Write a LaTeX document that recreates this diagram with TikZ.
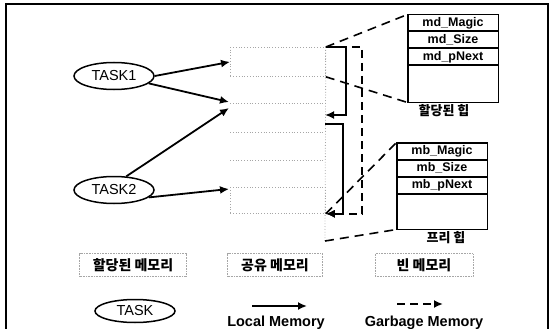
\documentclass[tikz,border=0pt]{standalone}
\usepackage{fontspec}
\setmainfont{Liberation Sans}
\newfontfamily\krfont{Noto Sans CJK KR}
\usetikzlibrary{shapes.geometric, arrows.meta, positioning}

\begin{document}
\begin{tikzpicture}[x=1pt, y=-1pt,
					taskell/.style={
						draw,
						ellipse,
						line width=1.5pt,
						minimum width=80pt,
						minimum height=27pt,
						inner sep=0pt,
						font=\fontsize{14.5}{16}\selectfont
					},
					fieldrow/.style={
						draw,
						rectangle,
						line width=1pt,
						minimum width=90pt,
						minimum height=16pt,
						inner sep=0pt,
						font=\bfseries\fontsize{12.5}{13}\selectfont
					},
					memblock/.style={
						draw=gray!70,
						dotted,
						line width=0.8pt,
						rectangle,
						minimum width=95pt,
						inner sep=0pt,
						anchor=north west
					},
					legendbox/.style={
						draw=gray!70,
						densely dotted,
						line width=0.6pt,
						rectangle,
						minimum height=23pt,
						inner sep=2pt,
						font=\krfont\bfseries\fontsize{14}{16}\selectfont
					},
					heaplabel/.style={font=\krfont\bfseries\fontsize{13}{14}\selectfont},
					legendtext/.style={font=\bfseries\fontsize{14.5}{16}\selectfont, anchor=base},
					localarrow/.style={-{Latex[length=9pt,width=8pt]}, line width=1.8pt},
					garbarrow/.style={-{Latex[length=9pt,width=8pt]}, line width=1.8pt, dash pattern=on 8pt off 5pt},
					zoomline/.style={line width=1.6pt, dash pattern=on 9pt off 6pt}
					]
					\useasboundingbox (0,0) rectangle (554,329);
					
					% Frame
					\draw[line width=1.3pt] (6,329) -- (6,4) -- (548,4) -- (548,329);
					
					% Shared memory column
					\node (blkA) [memblock, minimum height=29pt] at (230,47) {};
					\node (blkB) [memblock, minimum height=26pt] at (230,187) {};
					\draw[gray!70, dotted, line width=0.8pt] (230,103) -- (325,103);
					\draw[gray!70, dotted, line width=0.8pt] (230,132) -- (325,132);
					\draw[gray!70, dotted, line width=0.8pt] (230,160) -- (325,160);
					\coordinate (freebot) at (325,241);
					\draw[gray!70, dotted, line width=0.8pt] (blkA.north east) -- (freebot);
					
					% Tasks
					\node (task1) [taskell] at (114,76) {TASK1};
					\node (task2) [taskell] at (114,190) {TASK2};
					\coordinate (row3a) at (229,102);
					\coordinate (row3b) at (229,108);
					\coordinate (blkBin) at (229,189);
					\draw[localarrow] (task1.east) -- (blkA.west);
					\draw[localarrow] (task1.-12) -- (row3a);
					\draw[localarrow] (task2.48) -- (row3b);
					\draw[localarrow] (task2.-12) -- (blkBin);
					
					% Allocated heap
					\node (mdmagic) [fieldrow] at (453,23) {md\_Magic};
					\node (mdsize) [fieldrow, below=0pt of mdmagic] {md\_Size};
					\node (mdpnext) [fieldrow, below=0pt of mdsize] {md\_pNext};
					\node (mdfree) [fieldrow, minimum height=36pt, below=0pt of mdpnext] {};
					\draw[line width=1.8pt] (mdmagic.north west) rectangle (mdfree.south east);
					\node (mdlabel) [heaplabel] at (444,111) {할당된 힙};
					
					% Free heap
					\node (mbmagic) [fieldrow] at (442,151) {mb\_Magic};
					\node (mbsize) [fieldrow, below=0pt of mbmagic] {mb\_Size};
					\node (mbpnext) [fieldrow, below=0pt of mbsize] {mb\_pNext};
					\node (mbfree) [fieldrow, minimum height=35pt, below=0pt of mbpnext] {};
					\draw[line width=1.8pt] (mbmagic.north west) rectangle (mbfree.south east);
					\node (mblabel) [heaplabel] at (446,238) {프리 힙};
					
					% Zoom lines
					\draw[zoomline] (blkA.north east) -- (mdmagic.north west);
					\draw[zoomline] (blkA.south east) -- (mdfree.south west);
					\draw[zoomline] (blkB.south east) -- (mbmagic.north west);
					\draw[zoomline] (freebot) -- (mbfree.south west);
					
					% Memory moves
					\coordinate (loc1) at (325,115);
					\coordinate (loc2) at (325,124);
					\draw[garbarrow] (blkA.north east) -- ++(36,0) |- (blkB.south east);
					\draw[localarrow] (blkA.north east) -- ++(20,0) |- (loc1);
					\draw[localarrow] (loc2) -- ++(18,0) |- (blkB.south east);
					
					% Legend
					\node (allocmem) [legendbox, minimum width=107pt] at (133,265) {할당된 메모리};
					\node (sharedmem) [legendbox, minimum width=95pt] at (275,265) {공유 메모리};
					\node (freemem) [legendbox, minimum width=98pt] at (424,265) {빈 메모리};
					\node (tasklegend) [taskell, minimum height=23pt] at (135,311) {TASK};
					\coordinate (lm1) at (252,306);
					\coordinate (lm2) at (307,306);
					\coordinate (gm1) at (397,304);
					\coordinate (gm2) at (443,304);
					\draw[localarrow] (lm1) -- (lm2);
					\draw[garbarrow] (gm1) -- (gm2);
					\node (loclegend) [legendtext] at (276,326) {Local Memory};
					\node (garblegend) [legendtext] at (424,326) {Garbage Memory};
					
				\end{tikzpicture}
\end{document}
